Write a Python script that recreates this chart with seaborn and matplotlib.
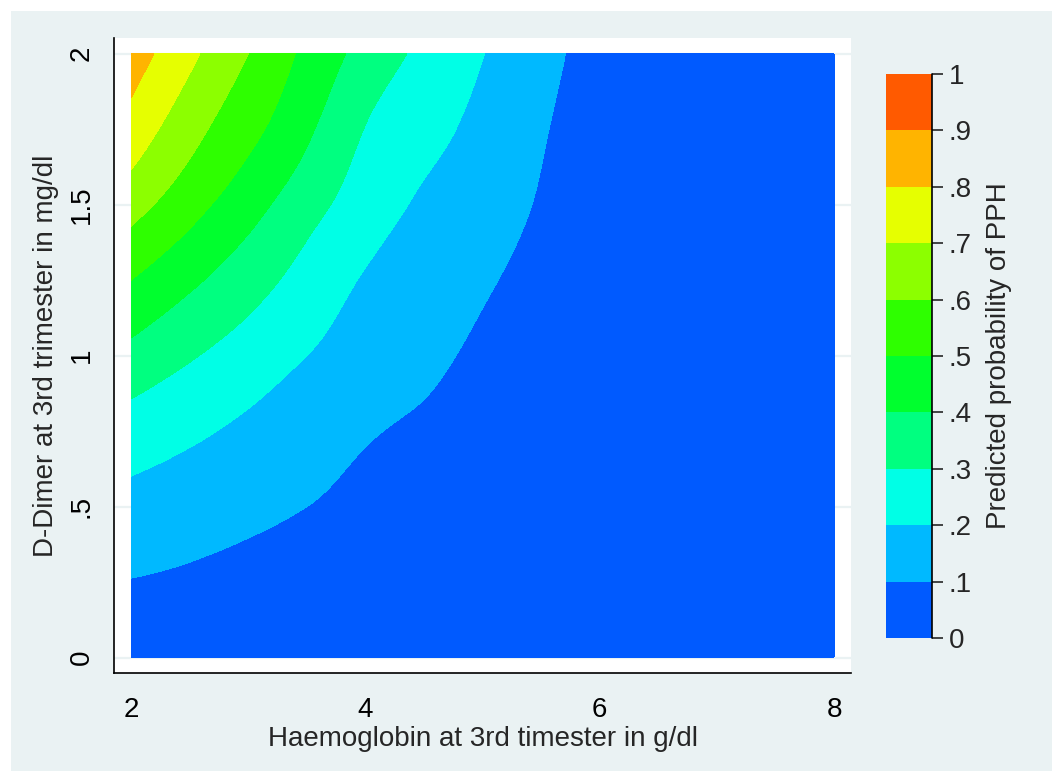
import numpy as np
import matplotlib
matplotlib.use("Agg")
import matplotlib.pyplot as plt
import matplotlib.tri as mtri
from matplotlib.patches import Rectangle
import seaborn as sns

# ---------------- data ----------------
haemoglobin = [2.0, 2.5, 3.0, 3.5, 4.0, 4.5, 5.0, 5.5, 6.0, 6.5, 7.0, 7.5, 8.0]
ddimer = [0.0, 0.25, 0.5, 0.75, 1.0, 1.25, 1.5, 1.75, 2.0]
# predicted probability of PPH, one row per D-Dimer value
p_dd_000 = [0.055, 0.047, 0.040, 0.034, 0.029, 0.024, 0.020, 0.017, 0.014, 0.012, 0.010, 0.008, 0.007]
p_dd_025 = [0.097, 0.086, 0.072, 0.062, 0.053, 0.045, 0.038, 0.032, 0.027, 0.022, 0.018, 0.014, 0.011]
p_dd_050 = [0.167, 0.145, 0.122, 0.100, 0.082, 0.066, 0.053, 0.043, 0.035, 0.027, 0.020, 0.015, 0.012]
p_dd_075 = [0.254, 0.217, 0.180, 0.143, 0.108, 0.086, 0.066, 0.050, 0.040, 0.030, 0.022, 0.016, 0.012]
p_dd_100 = [0.370, 0.309, 0.254, 0.200, 0.160, 0.122, 0.085, 0.065, 0.050, 0.037, 0.027, 0.020, 0.014]
p_dd_125 = [0.500, 0.419, 0.342, 0.262, 0.192, 0.150, 0.110, 0.080, 0.062, 0.044, 0.031, 0.021, 0.015]
p_dd_150 = [0.640, 0.537, 0.439, 0.338, 0.251, 0.184, 0.137, 0.094, 0.066, 0.045, 0.031, 0.022, 0.016]
p_dd_175 = [0.760, 0.636, 0.528, 0.418, 0.297, 0.232, 0.169, 0.107, 0.068, 0.046, 0.032, 0.023, 0.017]
p_dd_200 = [0.850, 0.722, 0.600, 0.476, 0.365, 0.279, 0.203, 0.127, 0.070, 0.047, 0.033, 0.024, 0.018]

levels = [0.0, 0.1, 0.2, 0.3, 0.4, 0.5, 0.6, 0.7, 0.8, 0.9, 1.0]
level_labels = ["0", ".1", ".2", ".3", ".4", ".5", ".6", ".7", ".8", ".9", "1"]
x_ticks = [2, 4, 6, 8]
x_tick_labels = ["2", "4", "6", "8"]
y_ticks = [0, 0.5, 1, 1.5, 2]
y_tick_labels = ["0", ".5", "1", "1.5", "2"]
band_colors = ["#005AFF", "#00B9FF", "#00FFE6", "#00FF80", "#00FF2E",
               "#2EFF00", "#8CFF00", "#E6FF00", "#FFB400", "#FF5A00"]

# ---------------- style ----------------
sns.set_style("white")
plt.rcParams['font.family'] = ['Liberation Sans', 'DejaVu Sans']
palette = sns.color_palette(band_colors)
FS = 20

fig = plt.figure(figsize=(10.52, 7.71), dpi=100)
fig.patch.set_facecolor("white")
W, H = 1052.0, 771.0
fig.patches.append(Rectangle((11 / W, 0), 1, 1 - 11 / H, transform=fig.transFigure,
                             facecolor="#EAF2F3", edgecolor="none", zorder=-10))

ax = fig.add_axes([114.3 / W, 1 - 673.3 / H, (850.7 - 114.3) / W, (673.3 - 37.7) / H])
ax.set_facecolor("white")

# grid of values -> smooth surface via matplotlib's cubic triangulation refiner
Z = np.array([p_dd_000, p_dd_025, p_dd_050, p_dd_075, p_dd_100,
              p_dd_125, p_dd_150, p_dd_175, p_dd_200])
nx, ny = len(haemoglobin), len(ddimer)
XX, YY = np.meshgrid(haemoglobin, ddimer)
ys = 2.0  # make the grid cells square for the interpolation
tris = []
for j in range(ny - 1):
    for i in range(nx - 1):
        a = j * nx + i
        b, c, d = a + 1, a + nx, a + nx + 1
        tris.append([a, b, d])
        tris.append([a, d, c])
tri = mtri.Triangulation(XX.ravel(), YY.ravel() * ys, np.array(tris))
refiner = mtri.UniformTriRefiner(tri)
interp = mtri.CubicTriInterpolator(tri, Z.ravel(), kind="min_E")
tri_f, z_f = refiner.refine_field(Z.ravel(), triinterpolator=interp, subdiv=4)
tri_plot = mtri.Triangulation(tri_f.x, tri_f.y / ys, tri_f.triangles)
z_f = np.clip(z_f, 0.0005, 0.9995)

cf = ax.tricontourf(tri_plot, z_f, levels=levels, colors=palette, zorder=2)

ax.set_xlim(1.857, 8.1425)
ax.set_ylim(-0.0517, 2.053)
ax.set_axisbelow(True)
ax.yaxis.grid(True, color="#EAF2F3", lw=1.6)
ax.xaxis.grid(False)
for s in ["top", "right"]:
    ax.spines[s].set_visible(False)
for s in ["left", "bottom"]:
    ax.spines[s].set_visible(True)
    ax.spines[s].set_color("black")
    ax.spines[s].set_linewidth(1.2)

ax.set_xticks(x_ticks)
ax.set_xticklabels(x_tick_labels)
ax.set_yticks(y_ticks)
ax.set_yticklabels(y_tick_labels, rotation=90, va="center")
ax.tick_params(axis="both", direction="out", length=10, width=1.2, color="black",
               labelsize=FS, labelcolor="black", pad=7)
ax.tick_params(axis="y", pad=4)
ax.set_xlabel("Haemoglobin at 3rd timester in g/dl", fontsize=FS, labelpad=2)
ax.set_ylabel("D-Dimer at 3rd trimester in mg/dl", fontsize=FS, labelpad=7)

cax = fig.add_axes([886 / W, 1 - 638 / H, 46 / W, 564 / H])
cb = fig.colorbar(cf, cax=cax, ticks=levels)
cb.outline.set_visible(False)
cb.set_ticklabels(level_labels)
cax.tick_params(length=8, width=1.2, labelsize=FS, pad=4)
cax.plot([1, 1], [0, 1], transform=cax.transAxes, color="black", lw=1.2, clip_on=False)
cb.set_label("Predicted probability of PPH", fontsize=FS, labelpad=10)

fig.savefig("out.png", dpi=100, facecolor=fig.get_facecolor())
